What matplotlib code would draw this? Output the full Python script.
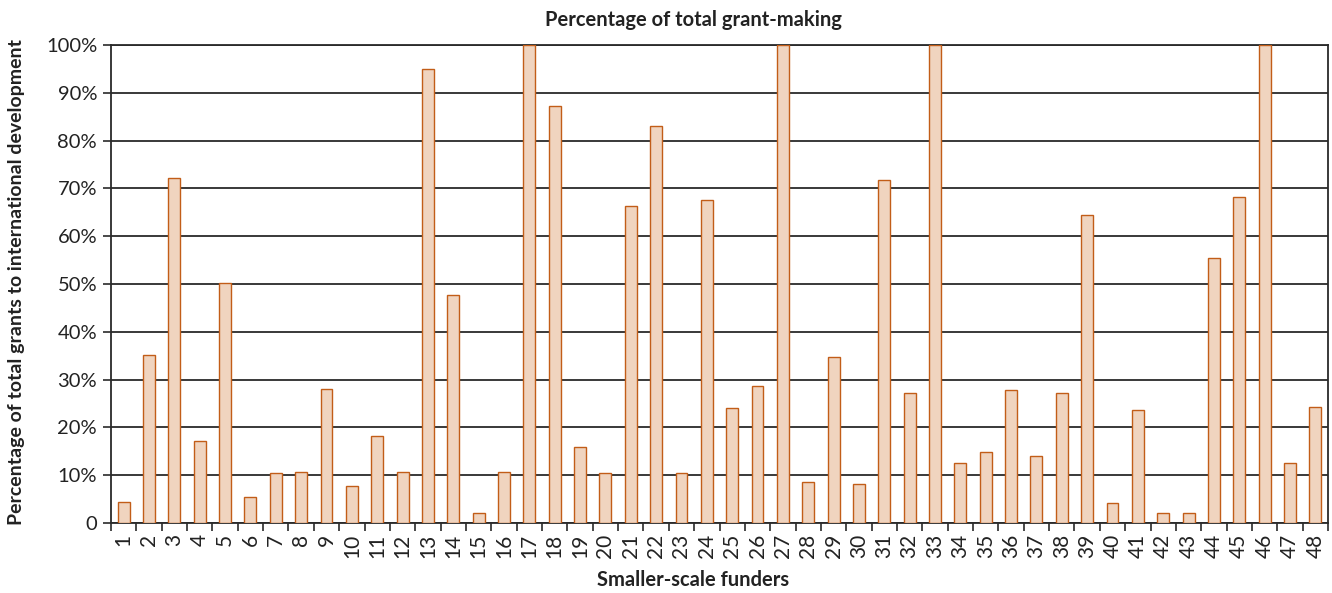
import matplotlib
matplotlib.use("Agg")
import matplotlib.pyplot as plt
import numpy as np

# share of total grant-making going to international development, per funder
funders = [str(i) for i in range(1, 49)]
share = [4.4, 35.2, 72.2, 17.2, 50.3, 5.4, 10.4, 10.7, 28.1, 7.7,
         18.2, 10.7, 94.9, 47.8, 2.0, 10.7, 100, 87.3, 16.0, 10.5,
         66.4, 83.0, 10.5, 67.6, 24.1, 28.7, 100, 8.6, 34.7, 8.1,
         71.8, 27.3, 100, 12.6, 14.9, 27.8, 14.1, 27.1, 64.4, 4.1,
         23.6, 2.1, 2.1, 55.4, 68.3, 100, 12.5, 24.3]
yticks = [0, 10, 20, 30, 40, 50, 60, 70, 80, 90, 100]
ytick_labels = ["0"] + ["%d%%" % v for v in yticks[1:]]

plt.rcParams['font.family'] = ['Lato', 'DejaVu Sans']

fig = plt.figure(figsize=(13.32, 5.93), dpi=100)
ax = fig.add_axes([111/1332, 1 - 523/593, (1328 - 111)/1332, (523 - 45)/593])

x = np.arange(len(funders))
ax.bar(x, share, width=0.47, color="#f0d4bf", edgecolor="#c25d18", linewidth=1.0, zorder=3)

ax.set_xlim(-0.5, len(funders) - 0.5)
ax.set_ylim(0, 100)
ax.set_yticks(yticks)
ax.set_yticklabels(ytick_labels, fontsize=14.5, color="#222222")
ax.yaxis.grid(True, color="#2a2a2a", linewidth=1.3, zorder=0)
ax.set_axisbelow(True)

ax.set_xticks(x)
ax.set_xticklabels(funders, rotation=90, fontsize=15, color="#222222")
ax.tick_params(axis="x", which="major", length=0, pad=8)
ax.set_xticks(np.arange(-0.5, len(funders)), minor=True)
ax.tick_params(axis="x", which="minor", length=6, width=1.2, color="#2a2a2a")
ax.tick_params(axis="y", length=6, width=1.2, color="#2a2a2a", pad=4)

for s in ["left", "bottom", "right", "top"]:
    ax.spines[s].set_color("#2a2a2a")
    ax.spines[s].set_linewidth(1.3)

fig.text(693/1332, 1 - 20/593, "Percentage of total grant-making", ha="center", va="center",
         fontsize=14.5, fontweight="bold", color="#222222")
fig.text(693/1332, 1 - 580/593, "Smaller-scale funders", ha="center", va="center",
         fontsize=14.5, fontweight="bold", color="#222222")
fig.text(17/1332, 1 - 282/593, "Percentage of total grants to international development",
         ha="center", va="center", rotation=90, fontsize=14, fontweight="bold", color="#222222")

fig.savefig("out.png", dpi=100)
